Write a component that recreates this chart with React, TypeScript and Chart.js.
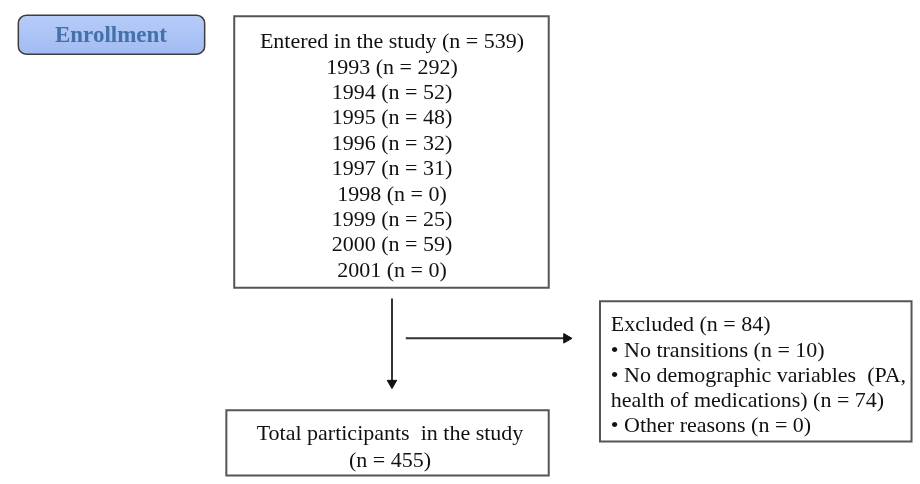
import React, { useEffect, useRef } from "react";
import { Chart, registerables } from "chart.js";

Chart.register(...registerables);

// ---- data ----
const stageLabel = "Enrollment";
const enteredTotal = 539;
const years = ["1993", "1994", "1995", "1996", "1997", "1998", "1999", "2000", "2001"];
const yearCounts = [292, 52, 48, 32, 31, 0, 25, 59, 0];
const excludedTotal = 84;
const exclusionReasons = ["No transitions", "No demographic variables  (PA,|health of medications)", "Other reasons"];
const exclusionCounts = [10, 74, 0];
const finalTotal = 455;

const W = 920;
const H = 484;
const FONT = '"Liberation Serif", "Times New Roman", serif';

export default function App() {
  const ref = useRef<HTMLCanvasElement | null>(null);

  useEffect(() => {
    document.body.style.margin = "0";
    const canvas = ref.current;
    if (!canvas) return;

    const flowPlugin = {
      id: "flow",
      beforeDatasetsDraw(chart: any) {
        const ctx = chart.ctx as CanvasRenderingContext2D;
        const sx = chart.scales.x;
        const sy = chart.scales.y;
        const px = (v: number) => sx.getPixelForValue(v);
        const py = (v: number) => sy.getPixelForValue(v);

        ctx.save();
        // Enrollment rounded box
        const ex0 = px(12), ex1 = px(201), ey0 = py(9), ey1 = py(49);
        const grad = ctx.createLinearGradient(0, ey0, 0, ey1);
        grad.addColorStop(0, "#b6ccf9");
        grad.addColorStop(1, "#a2bbf2");
        ctx.beginPath();
        (ctx as any).roundRect(ex0, ey0, ex1 - ex0, ey1 - ey0, 8);
        ctx.fillStyle = grad;
        ctx.fill();
        ctx.lineWidth = 1.5;
        ctx.strokeStyle = "#3d3d3d";
        ctx.stroke();
        ctx.fillStyle = "#4571a9";
        ctx.font = `bold 23px ${FONT}`;
        ctx.textAlign = "center";
        ctx.textBaseline = "middle";
        ctx.fillText(stageLabel, px(106), py(30));

        // rectangular boxes
        const rect = (x0: number, y0: number, x1: number, y1: number) => {
          ctx.beginPath();
          ctx.rect(px(x0), py(y0), px(x1) - px(x0), py(y1) - py(y0));
          ctx.fillStyle = "#ffffff";
          ctx.fill();
          ctx.lineWidth = 2;
          ctx.strokeStyle = "#555555";
          ctx.stroke();
        };
        rect(231, 10, 550, 289);
        rect(602, 303, 918, 447);
        rect(223, 415, 550, 482);

        ctx.fillStyle = "#111111";
        ctx.font = `22px ${FONT}`;
        ctx.textBaseline = "middle";

        // entered box
        ctx.textAlign = "center";
        const mainLines = [`Entered in the study (n = ${enteredTotal})`].concat(
          years.map((y, i) => `${y} (n = ${yearCounts[i]})`)
        );
        mainLines.forEach((t, i) => {
          ctx.fillText(t, px(391), py(37 + i * 26.1));
        });

        // total box
        ctx.fillText("Total participants  in the study", px(389), py(440));
        ctx.fillText(`(n = ${finalTotal})`, px(389), py(467));

        // excluded box
        ctx.textAlign = "left";
        const exLines: string[] = [`Excluded (n = ${excludedTotal})`];
        exclusionReasons.forEach((r, i) => {
          const parts = r.split("|");
          parts.forEach((p, j) => {
            let s = j === 0 ? `• ${p}` : p;
            if (j === parts.length - 1) s += ` (n = ${exclusionCounts[i]})`;
            exLines.push(s);
          });
        });
        exLines.forEach((t, i) => {
          ctx.fillText(t, px(613), py(328 + i * 25.8));
        });
        ctx.restore();
      },
    };

    const arrowStyle = {
      type: "line" as const,
      showLine: true,
      borderColor: "#333333",
      borderWidth: 2,
      pointStyle: "triangle" as const,
      pointBackgroundColor: "#111111",
      pointBorderColor: "#111111",
      pointBorderWidth: 1,
    };

    const chart = new Chart(canvas, {
      type: "scatter",
      data: {
        datasets: [
          {
            ...arrowStyle,
            data: [
              { x: 391, y: 300 },
              { x: 391, y: 387 },
            ],
            pointRadius: [0, 5.5],
            pointRotation: [0, 180],
          } as any,
          {
            ...arrowStyle,
            data: [
              { x: 405, y: 341 },
              { x: 568, y: 341 },
            ],
            pointRadius: [0, 5.5],
            pointRotation: [0, 90],
          } as any,
        ],
      },
      options: {
        animation: false,
        responsive: false,
        maintainAspectRatio: false,
        devicePixelRatio: 1,
        layout: { padding: 0 },
        events: [],
        plugins: {
          legend: { display: false },
          tooltip: { enabled: false },
        },
        scales: {
          x: { type: "linear", min: 0, max: W, display: false },
          y: { type: "linear", min: 0, max: H, reverse: true, display: false },
        },
      },
      plugins: [flowPlugin],
    });

    return () => chart.destroy();
  }, []);

  return (
    <div style={{ width: W, height: H, background: "#ffffff" }}>
      <canvas ref={ref} width={W} height={H} style={{ display: "block", width: W, height: H }} />
    </div>
  );
}
